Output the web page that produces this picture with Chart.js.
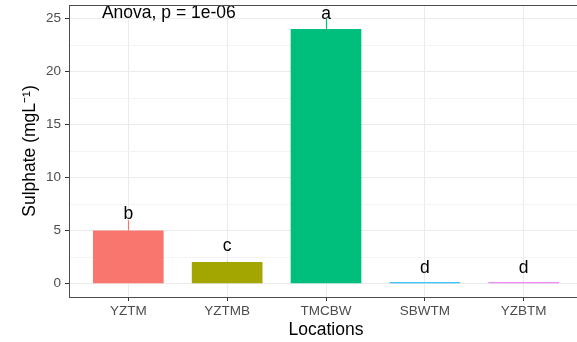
<!DOCTYPE html>
<html>
<head>
<meta charset="utf-8">
<script src="https://cdn.jsdelivr.net/npm/chart.js@4"></script>
<style>
  html, body { margin: 0; padding: 0; background: #fff; overflow: hidden; }
  #wrap { width: 590px; height: 342px; }
</style>
</head>
<body>
<div id="wrap"><canvas id="chart" width="590" height="342"></canvas></div>
<script>
// data
const locations = ['YZTM', 'YZTMB', 'TMCBW', 'SBWTM', 'YZBTM'];
const sulphate = [5.03, 2.05, 24.03, 0.15, 0.15];
const upper = [6.0, 2.1, 25.0, 0.15, 0.15];     // top of error bars
const letters = ['b', 'c', 'a', 'd', 'd'];
const letterY = [6.55, 3.5, 25.45, 1.5, 1.5];
const barColors = ['#F8766D', '#A3A500', '#00BF7D', '#00B0F6', '#E76BF3'];
const yTicks = [0, 2.5, 5, 7.5, 10, 12.5, 15, 17.5, 20, 22.5, 25];
const anovaLabel = 'Anova, p = 1e-06';
const anovaPos = { x: 0.41, y: 25.5 };

const font = 'Liberation Sans';

// error bars, group letters, panel border
const extras = {
  id: 'extras',
  afterDatasetsDraw(chart) {
    const ctx = chart.ctx, x = chart.scales.x, y = chart.scales.y;
    const a = chart.chartArea;
    ctx.save();
    ctx.lineWidth = 1.2;
    sulphate.forEach((v, i) => {
      if (upper[i] <= v) return;
      ctx.strokeStyle = barColors[i];
      const px = Math.round(x.getPixelForValue(i)) + 0.5;
      ctx.beginPath();
      ctx.moveTo(px, y.getPixelForValue(v));
      ctx.lineTo(px, y.getPixelForValue(upper[i]));
      ctx.stroke();
    });
    ctx.fillStyle = '#000';
    ctx.font = '17.5px "' + font + '"';
    ctx.textAlign = 'center';
    ctx.textBaseline = 'middle';
    letters.forEach((l, i) => {
      ctx.fillText(l, x.getPixelForValue(i), y.getPixelForValue(letterY[i]));
    });
    ctx.fillText(anovaLabel, x.getPixelForValue(anovaPos.x), y.getPixelForValue(anovaPos.y));
    ctx.strokeStyle = '#4d4d4d';
    ctx.lineWidth = 1;
    ctx.strokeRect(Math.round(a.left) + 0.5, Math.round(a.top) + 0.5,
      Math.round(a.right - a.left), Math.round(a.bottom - a.top));
    ctx.restore();
  }
};

new Chart(document.getElementById('chart'), {
  type: 'bar',
  data: {
    datasets: [{
      data: sulphate.map((v, i) => ({ x: i, y: v })),
      backgroundColor: barColors,
      borderWidth: 0,
      barPercentage: 0.715,
      categoryPercentage: 1
    }]
  },
  options: {
    responsive: false,
    animation: false,
    layout: { padding: { top: 5, right: 7, left: 0, bottom: 0 } },
    plugins: { legend: { display: false }, tooltip: { enabled: false } },
    scales: {
      x: {
        type: 'linear',
        offset: false,
        min: -0.6,
        max: 4.6,
        afterBuildTicks(scale) { scale.ticks = locations.map((_, i) => ({ value: i })); },
        afterFit(scale) { scale.height = 45; scale.paddingLeft = 0; scale.paddingRight = 0; },
        grid: { color: '#EBEBEB', tickColor: '#333', tickLength: 4, offset: false },
        border: { display: false },
        ticks: {
          color: '#4D4D4D', font: { family: font, size: 13.5 }, padding: 2,
          autoSkip: false, maxRotation: 0,
          callback: v => locations[v]
        },
        title: { display: true, text: 'Locations', color: '#000', font: { family: font, size: 17.5 }, padding: { top: 0, bottom: 1.5 } }
      },
      y: {
        min: -1.25,
        max: 26.3,
        afterBuildTicks(scale) { scale.ticks = yTicks.map(v => ({ value: v })); },
        afterFit(scale) { scale.width = 69; scale.paddingTop = 0; scale.paddingBottom = 0; },
        grid: {
          color: c => (c.tick && c.tick.value % 5 === 0) ? '#EBEBEB' : '#F3F3F3',
          tickLength: 4,
          tickColor: c => (c.tick && c.tick.value % 5 === 0) ? '#333' : 'rgba(0,0,0,0)'
        },
        border: { display: false },
        ticks: {
          color: '#4D4D4D', font: { family: font, size: 13.5 }, padding: 4,
          autoSkip: false,
          callback: v => (v % 5 === 0 ? v : '')
        },
        title: { display: true, text: 'Sulphate (mgL\u207B\u00B9)', color: '#000', font: { family: font, size: 17.5 }, padding: { top: 19.5, bottom: 0 } }
      }
    }
  },
  plugins: [extras]
});
</script>
</body>
</html>
